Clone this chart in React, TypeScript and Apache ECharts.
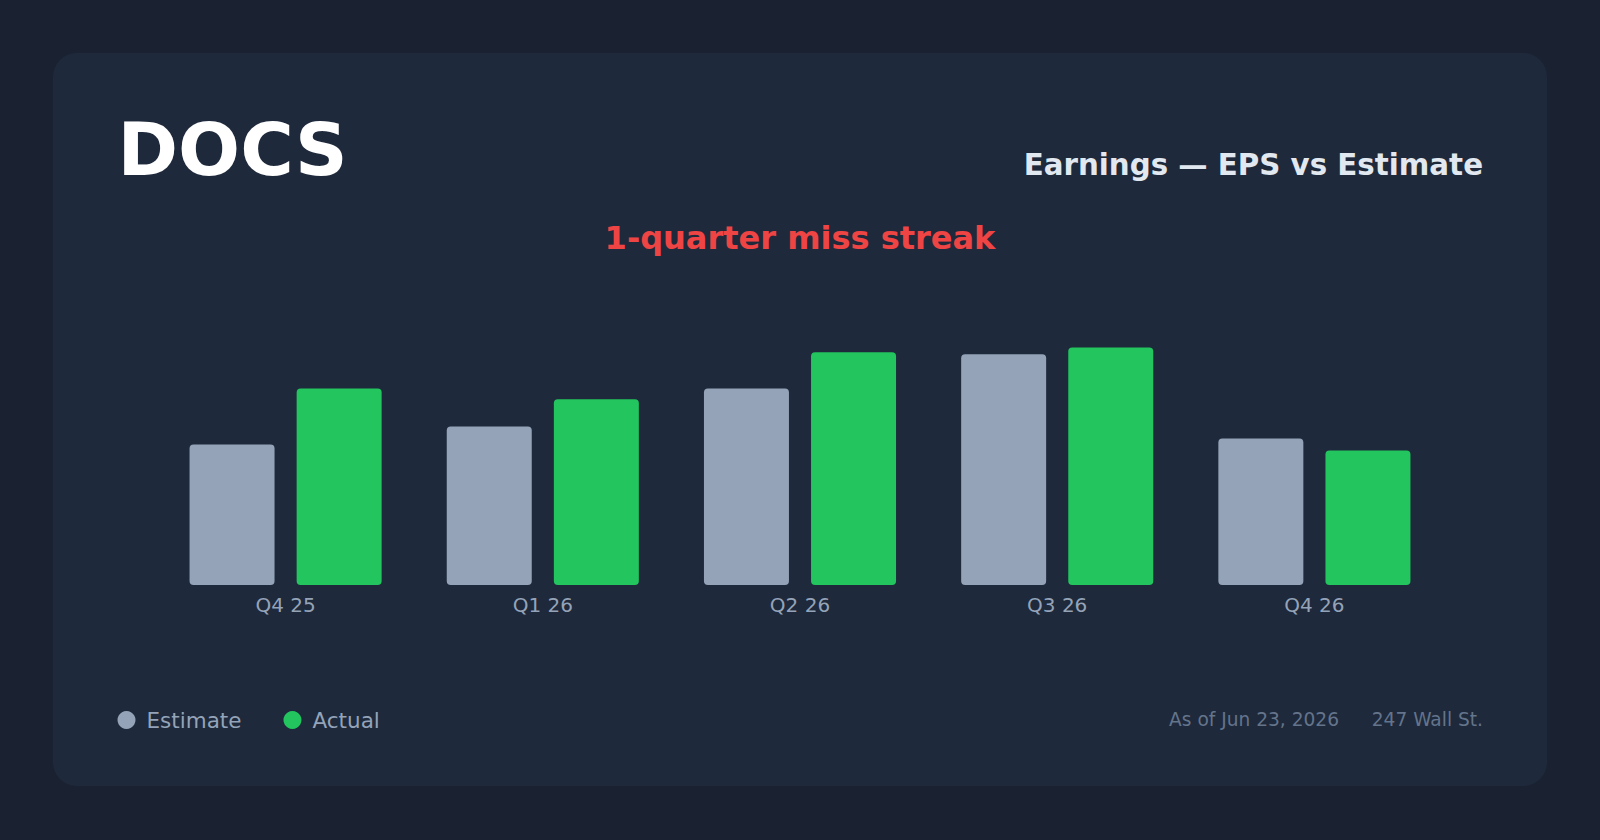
import React, { useEffect, useRef } from "react";
import * as echarts from "echarts";

const ticker = "DOCS";
const subtitle = "Earnings — EPS vs Estimate";
const streakNote = "1-quarter miss streak";
const quarters = ["Q4 25", "Q1 26", "Q2 26", "Q3 26", "Q4 26"];
const estimateEps = [0.35, 0.395, 0.49, 0.575, 0.365];
const actualEps = [0.49, 0.463, 0.58, 0.592, 0.335];
const seriesNames = ["Estimate", "Actual"];
const asOfText = "As of Jun 23, 2026";
const sourceText = "247 Wall St.";

const FONT = "'DejaVu Sans', sans-serif";

export default function App() {
  const ref = useRef<HTMLDivElement>(null);
  useEffect(() => {
    if (!ref.current) return;
    const chart = echarts.init(ref.current, undefined, { renderer: "svg" });
    chart.setOption({
      animation: false,
      backgroundColor: "#1a2231",
      textStyle: { fontFamily: FONT },
      graphic: [
        {
          type: "rect",
          z: -10,
          shape: { x: 53, y: 53, width: 1494, height: 733, r: 24 },
          style: { fill: "#1e293b" },
          silent: true,
        },
        {
          type: "text",
          x: 117.5,
          y: 149.5,
          style: {
            text: ticker,
            fill: "#ffffff",
            font: `bold 73px ${FONT}`,
            textAlign: "left",
            textVerticalAlign: "middle",
          },
        },
        {
          type: "text",
          x: 1483,
          y: 165,
          style: {
            text: subtitle,
            fill: "#e2e8f0",
            font: `bold 29.3px ${FONT}`,
            textAlign: "right",
            textVerticalAlign: "middle",
          },
        },
        {
          type: "text",
          x: 800,
          y: 237.5,
          style: {
            text: streakNote,
            fill: "#ef4444",
            font: `bold 32px ${FONT}`,
            textAlign: "center",
            textVerticalAlign: "middle",
          },
        },
        {
          type: "text",
          x: 1339,
          y: 719,
          style: {
            text: asOfText,
            fill: "#64748b",
            font: `18.6px ${FONT}`,
            textAlign: "right",
            textVerticalAlign: "middle",
          },
        },
        {
          type: "text",
          x: 1483,
          y: 719,
          style: {
            text: sourceText,
            fill: "#64748b",
            font: `18.6px ${FONT}`,
            textAlign: "right",
            textVerticalAlign: "middle",
          },
        },
      ],
      legend: {
        left: 117.5,
        top: 709,
        padding: 0,
        icon: "circle",
        itemWidth: 18,
        itemHeight: 18,
        itemGap: 42,
        data: seriesNames,
        textStyle: {
          color: "#94a3b8",
          fontSize: 21.5,
          fontFamily: FONT,
          padding: [0, 0, 3, 6],
        },
      },
      grid: { left: 157, right: 157, top: 264, bottom: 255 },
      xAxis: {
        type: "category",
        data: quarters,
        axisLine: { show: false },
        axisTick: { show: false },
        axisLabel: { color: "#94a3b8", fontSize: 20, margin: 10, fontFamily: FONT },
      },
      yAxis: {
        type: "value",
        min: 0,
        max: 0.8,
        show: false,
        splitLine: { show: false },
      },
      series: [
        {
          name: seriesNames[0],
          type: "bar",
          data: estimateEps,
          barWidth: 85,
          barGap: "26%",
          itemStyle: { color: "#94a3b8", borderRadius: 4 },
        },
        {
          name: seriesNames[1],
          type: "bar",
          data: actualEps,
          barWidth: 85,
          itemStyle: { color: "#22c55e", borderRadius: 4 },
        },
      ],
    });
    return () => chart.dispose();
  }, []);
  return (
    <div
      ref={ref}
      style={{ position: "fixed", left: 0, top: 0, width: 1600, height: 840 }}
    />
  );
}
